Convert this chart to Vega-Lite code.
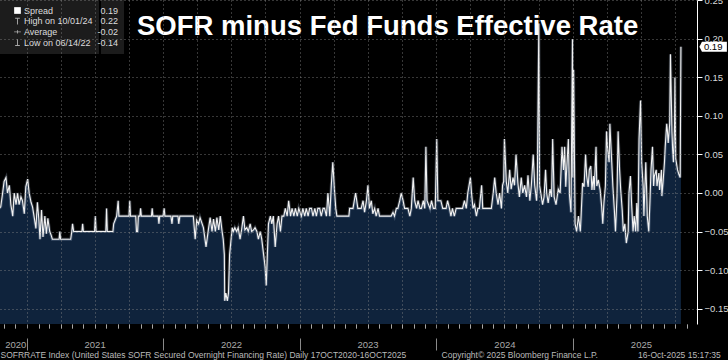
{
 "$schema": "https://vega.github.io/schema/vega-lite/v6.json",
 "width": 697, "height": 324,
 "autosize": {"type": "none"},
 "padding": {"left": 0, "top": 0, "right": 31, "bottom": 36},
 "background": "#000000",
 "title": {"text": "SOFR minus Fed Funds Effective Rate", "anchor": "start", "frame": "group", "orient": "top", "offset": -67, "dx": 137, "fontSize": 27.5, "fontWeight": "bold", "font": "Liberation Sans", "color": "#ffffff", "baseline": "alphabetic"},
 "datasets": {
  "spread": [
   {"d":"2020-10-19","v":-0.02},{"d":"2020-10-23","v":-0.018},{"d":"2020-10-28","v":0.0},{"d":"2020-11-01","v":0.015},{"d":"2020-11-06","v":0.02},{"d":"2020-11-10","v":0.0},{"d":"2020-11-15","v":0.01},{"d":"2020-11-19","v":-0.015},{"d":"2020-11-24","v":-0.03},{"d":"2020-11-28","v":0.0},{"d":"2020-12-03","v":-0.015},{"d":"2020-12-07","v":0.0},{"d":"2020-12-11","v":-0.015},{"d":"2020-12-16","v":-0.005},{"d":"2020-12-20","v":-0.01},{"d":"2020-12-25","v":-0.027},{"d":"2020-12-29","v":0.008},
   {"d":"2021-01-03","v":0.018},{"d":"2021-01-07","v":0.0},{"d":"2021-01-12","v":-0.012},{"d":"2021-01-16","v":-0.018},{"d":"2021-01-20","v":-0.03},{"d":"2021-01-25","v":-0.046},{"d":"2021-01-29","v":-0.012},{"d":"2021-02-02","v":-0.035},{"d":"2021-02-05","v":-0.06},{"d":"2021-02-09","v":-0.022},{"d":"2021-02-13","v":-0.057},{"d":"2021-02-18","v":-0.03},{"d":"2021-02-22","v":-0.053},{"d":"2021-02-26","v":-0.033},{"d":"2021-03-03","v":-0.05},{"d":"2021-03-07","v":-0.055},{"d":"2021-03-10","v":-0.06},{"d":"2021-03-28","v":-0.06},{"d":"2021-03-30","v":-0.05},{"d":"2021-04-01","v":-0.06},{"d":"2021-04-28","v":-0.06},{"d":"2021-05-01","v":-0.05},{"d":"2021-05-03","v":-0.04},{"d":"2021-05-06","v":-0.05},{"d":"2021-05-28","v":-0.05},{"d":"2021-05-30","v":-0.04},{"d":"2021-06-01","v":-0.05},{"d":"2021-07-01","v":-0.05},{"d":"2021-07-03","v":-0.03},{"d":"2021-07-05","v":-0.05},{"d":"2021-07-31","v":-0.05},{"d":"2021-08-02","v":-0.02},{"d":"2021-08-04","v":-0.05},{"d":"2021-08-19","v":-0.05},{"d":"2021-08-21","v":-0.04},{"d":"2021-08-25","v":-0.035},{"d":"2021-08-29","v":-0.03},{"d":"2021-09-02","v":-0.01},{"d":"2021-09-04","v":-0.03},{"d":"2021-10-01","v":-0.03},{"d":"2021-10-03","v":-0.01},{"d":"2021-10-05","v":-0.03},{"d":"2021-10-19","v":-0.03},{"d":"2021-10-21","v":-0.05},{"d":"2021-10-24","v":-0.05},{"d":"2021-10-26","v":-0.03},{"d":"2021-10-30","v":-0.03},{"d":"2021-11-01","v":-0.02},{"d":"2021-11-03","v":-0.03},{"d":"2021-11-30","v":-0.03},{"d":"2021-12-02","v":-0.02},{"d":"2021-12-04","v":-0.03},{"d":"2021-12-18","v":-0.03},{"d":"2021-12-20","v":-0.04},{"d":"2021-12-22","v":-0.03},{"d":"2021-12-31","v":-0.03},
   {"d":"2022-01-03","v":-0.02},{"d":"2022-01-05","v":-0.03},{"d":"2022-01-21","v":-0.03},{"d":"2022-01-24","v":-0.04},{"d":"2022-01-26","v":-0.03},{"d":"2022-02-09","v":-0.03},{"d":"2022-02-11","v":-0.04},{"d":"2022-02-14","v":-0.03},{"d":"2022-03-22","v":-0.03},{"d":"2022-03-27","v":-0.06},{"d":"2022-03-31","v":-0.035},{"d":"2022-04-05","v":-0.04},{"d":"2022-04-09","v":-0.032},{"d":"2022-04-18","v":-0.045},{"d":"2022-04-25","v":-0.07},{"d":"2022-05-02","v":-0.045},{"d":"2022-05-06","v":-0.032},{"d":"2022-05-11","v":-0.05},{"d":"2022-05-15","v":-0.034},{"d":"2022-05-20","v":-0.05},{"d":"2022-05-24","v":-0.032},{"d":"2022-05-29","v":-0.048},{"d":"2022-06-02","v":-0.03},{"d":"2022-06-07","v":-0.05},{"d":"2022-06-10","v":-0.06},{"d":"2022-06-13","v":-0.08},{"d":"2022-06-14","v":-0.14},{"d":"2022-06-17","v":-0.13},{"d":"2022-06-21","v":-0.14},{"d":"2022-06-24","v":-0.13},{"d":"2022-06-27","v":-0.08},{"d":"2022-07-01","v":-0.06},{"d":"2022-07-04","v":-0.045},{"d":"2022-07-07","v":-0.05},{"d":"2022-07-11","v":-0.045},{"d":"2022-07-16","v":-0.05},{"d":"2022-07-20","v":-0.045},{"d":"2022-07-25","v":-0.06},{"d":"2022-07-29","v":-0.048},{"d":"2022-08-03","v":-0.03},{"d":"2022-08-07","v":-0.048},{"d":"2022-08-12","v":-0.045},{"d":"2022-08-16","v":-0.05},{"d":"2022-08-21","v":-0.04},{"d":"2022-08-25","v":-0.05},{"d":"2022-08-30","v":-0.048},{"d":"2022-09-03","v":-0.045},{"d":"2022-09-08","v":-0.05},{"d":"2022-09-12","v":-0.06},{"d":"2022-09-17","v":-0.05},{"d":"2022-09-21","v":-0.06},{"d":"2022-09-26","v":-0.08},{"d":"2022-09-30","v":-0.096},{"d":"2022-10-03","v":-0.12},{"d":"2022-10-06","v":-0.08},{"d":"2022-10-09","v":-0.04},{"d":"2022-10-14","v":-0.03},{"d":"2022-10-18","v":-0.04},{"d":"2022-10-22","v":-0.03},{"d":"2022-10-27","v":-0.07},{"d":"2022-11-01","v":-0.04},{"d":"2022-11-05","v":-0.03},{"d":"2022-11-10","v":-0.05},{"d":"2022-11-14","v":-0.03},{"d":"2022-11-19","v":-0.03},{"d":"2022-11-23","v":-0.02},{"d":"2022-11-28","v":-0.03},{"d":"2022-12-02","v":-0.01},{"d":"2022-12-07","v":-0.03},{"d":"2022-12-11","v":-0.02},{"d":"2022-12-16","v":-0.03},{"d":"2022-12-20","v":-0.02},{"d":"2022-12-25","v":-0.03},{"d":"2022-12-29","v":-0.02},
   {"d":"2023-01-05","v":-0.03},{"d":"2023-01-09","v":-0.02},{"d":"2023-01-14","v":-0.03},{"d":"2023-01-18","v":-0.02},{"d":"2023-01-23","v":-0.03},{"d":"2023-01-27","v":-0.02},{"d":"2023-02-01","v":-0.02},{"d":"2023-02-05","v":-0.03},{"d":"2023-02-10","v":-0.02},{"d":"2023-02-14","v":-0.03},{"d":"2023-02-18","v":-0.02},{"d":"2023-02-23","v":-0.02},{"d":"2023-02-27","v":-0.03},{"d":"2023-03-04","v":-0.02},{"d":"2023-03-08","v":-0.02},{"d":"2023-03-13","v":-0.03},{"d":"2023-03-17","v":0.0},{"d":"2023-03-22","v":-0.03},{"d":"2023-03-26","v":0.01},{"d":"2023-03-30","v":0.04},{"d":"2023-04-04","v":0.0},{"d":"2023-04-07","v":-0.02},{"d":"2023-04-10","v":-0.03},{"d":"2023-05-12","v":-0.03},{"d":"2023-05-14","v":-0.02},{"d":"2023-05-23","v":-0.02},{"d":"2023-05-30","v":0.0},{"d":"2023-06-05","v":-0.02},{"d":"2023-06-14","v":-0.02},{"d":"2023-06-19","v":-0.01},{"d":"2023-06-23","v":-0.025},{"d":"2023-06-28","v":-0.01},{"d":"2023-07-02","v":0.01},{"d":"2023-07-06","v":-0.02},{"d":"2023-07-11","v":-0.01},{"d":"2023-07-15","v":-0.027},{"d":"2023-07-20","v":-0.02},{"d":"2023-07-24","v":-0.03},{"d":"2023-07-29","v":-0.02},{"d":"2023-08-02","v":-0.03},{"d":"2023-09-02","v":-0.03},{"d":"2023-09-07","v":-0.025},{"d":"2023-09-11","v":-0.03},{"d":"2023-09-16","v":-0.02},{"d":"2023-09-20","v":-0.02},{"d":"2023-09-25","v":-0.01},{"d":"2023-09-29","v":0.0},{"d":"2023-10-04","v":-0.01},{"d":"2023-10-08","v":-0.02},{"d":"2023-10-17","v":-0.02},{"d":"2023-10-22","v":-0.03},{"d":"2023-10-26","v":-0.02},{"d":"2023-10-31","v":0.02},{"d":"2023-11-04","v":-0.01},{"d":"2023-11-09","v":-0.02},{"d":"2023-11-13","v":-0.01},{"d":"2023-11-18","v":-0.02},{"d":"2023-11-22","v":-0.02},{"d":"2023-11-27","v":-0.01},{"d":"2023-12-01","v":-0.02},{"d":"2023-12-04","v":0.06},{"d":"2023-12-07","v":-0.01},{"d":"2023-12-15","v":-0.02},{"d":"2023-12-19","v":-0.01},{"d":"2023-12-24","v":-0.02},{"d":"2023-12-29","v":-0.02},
   {"d":"2024-01-02","v":0.07},{"d":"2024-01-05","v":-0.01},{"d":"2024-01-13","v":-0.01},{"d":"2024-01-18","v":-0.02},{"d":"2024-01-27","v":-0.02},{"d":"2024-01-31","v":-0.01},{"d":"2024-02-05","v":-0.02},{"d":"2024-02-09","v":-0.03},{"d":"2024-02-13","v":-0.02},{"d":"2024-02-18","v":-0.03},{"d":"2024-02-23","v":-0.02},{"d":"2024-03-03","v":-0.02},{"d":"2024-03-11","v":-0.02},{"d":"2024-03-16","v":-0.01},{"d":"2024-03-21","v":-0.02},{"d":"2024-03-25","v":0.0},{"d":"2024-04-01","v":0.02},{"d":"2024-04-04","v":0.0},{"d":"2024-04-08","v":-0.02},{"d":"2024-04-12","v":-0.015},{"d":"2024-04-17","v":-0.03},{"d":"2024-04-21","v":-0.02},{"d":"2024-04-25","v":-0.02},{"d":"2024-05-01","v":0.01},{"d":"2024-05-04","v":-0.02},{"d":"2024-05-27","v":-0.02},{"d":"2024-06-01","v":0.0},{"d":"2024-06-05","v":0.02},{"d":"2024-06-09","v":0.0},{"d":"2024-06-14","v":-0.015},{"d":"2024-06-18","v":0.0},{"d":"2024-06-23","v":-0.02},{"d":"2024-06-26","v":0.01},{"d":"2024-06-29","v":0.015},{"d":"2024-07-01","v":0.07},{"d":"2024-07-06","v":0.015},{"d":"2024-07-10","v":0.0},{"d":"2024-07-15","v":0.03},{"d":"2024-07-19","v":0.005},{"d":"2024-07-24","v":0.02},{"d":"2024-07-28","v":0.01},{"d":"2024-08-01","v":0.05},{"d":"2024-08-06","v":0.013},{"d":"2024-08-10","v":-0.005},{"d":"2024-08-15","v":0.02},{"d":"2024-08-19","v":0.0},{"d":"2024-08-24","v":0.01},{"d":"2024-08-29","v":-0.005},{"d":"2024-09-02","v":0.023},{"d":"2024-09-07","v":-0.01},{"d":"2024-09-11","v":0.01},{"d":"2024-09-16","v":0.05},{"d":"2024-09-20","v":0.01},{"d":"2024-09-25","v":-0.01},{"d":"2024-09-27","v":0.013},{"d":"2024-10-01","v":0.22},{"d":"2024-10-03","v":0.01},{"d":"2024-10-11","v":-0.015},{"d":"2024-10-15","v":-0.005},{"d":"2024-10-19","v":0.03},{"d":"2024-10-22","v":0.0},{"d":"2024-10-26","v":-0.013},{"d":"2024-10-31","v":0.005},{"d":"2024-11-04","v":-0.005},{"d":"2024-11-07","v":0.07},{"d":"2024-11-11","v":-0.005},{"d":"2024-11-16","v":-0.015},{"d":"2024-11-22","v":0.005},{"d":"2024-11-27","v":0.0},{"d":"2024-12-02","v":0.06},{"d":"2024-12-06","v":0.03},{"d":"2024-12-09","v":0.06},{"d":"2024-12-12","v":0.008},{"d":"2024-12-15","v":0.035},{"d":"2024-12-19","v":0.07},{"d":"2024-12-22","v":-0.003},{"d":"2024-12-26","v":-0.025},{"d":"2024-12-30","v":0.2},{"d":"2024-12-31","v":0.02},
   {"d":"2025-01-02","v":0.16},{"d":"2025-01-06","v":-0.04},{"d":"2025-01-10","v":-0.05},{"d":"2025-01-15","v":-0.03},{"d":"2025-01-20","v":-0.05},{"d":"2025-01-22","v":-0.03},{"d":"2025-01-26","v":0.013},{"d":"2025-01-30","v":0.008},{"d":"2025-02-03","v":0.05},{"d":"2025-02-06","v":0.022},{"d":"2025-02-10","v":0.008},{"d":"2025-02-13","v":0.03},{"d":"2025-02-17","v":0.035},{"d":"2025-02-20","v":0.004},{"d":"2025-02-24","v":0.022},{"d":"2025-02-26","v":0.004},{"d":"2025-03-03","v":0.06},{"d":"2025-03-05","v":0.009},{"d":"2025-03-09","v":0.017},{"d":"2025-03-14","v":0.004},{"d":"2025-03-18","v":-0.017},{"d":"2025-03-21","v":-0.04},{"d":"2025-03-24","v":-0.013},{"d":"2025-03-28","v":0.009},{"d":"2025-03-31","v":0.08},{"d":"2025-04-03","v":0.057},{"d":"2025-04-07","v":0.04},{"d":"2025-04-09","v":0.09},{"d":"2025-04-14","v":0.04},{"d":"2025-04-17","v":0.009},{"d":"2025-04-21","v":-0.022},{"d":"2025-04-24","v":-0.05},{"d":"2025-04-28","v":-0.005},{"d":"2025-05-01","v":0.08},{"d":"2025-05-05","v":0.03},{"d":"2025-05-08","v":0.004},{"d":"2025-05-12","v":-0.022},{"d":"2025-05-15","v":-0.05},{"d":"2025-05-19","v":-0.04},{"d":"2025-05-23","v":-0.065},{"d":"2025-05-28","v":-0.05},{"d":"2025-05-30","v":0.0},{"d":"2025-06-03","v":0.022},{"d":"2025-06-06","v":-0.013},{"d":"2025-06-10","v":-0.05},{"d":"2025-06-13","v":-0.03},{"d":"2025-06-17","v":-0.05},{"d":"2025-06-20","v":-0.013},{"d":"2025-06-23","v":-0.05},{"d":"2025-06-26","v":0.07},{"d":"2025-06-30","v":0.12},{"d":"2025-07-03","v":0.04},{"d":"2025-07-07","v":0.009},{"d":"2025-07-09","v":-0.03},{"d":"2025-07-14","v":0.04},{"d":"2025-07-16","v":0.009},{"d":"2025-07-18","v":-0.03},{"d":"2025-07-22","v":-0.05},{"d":"2025-07-25","v":-0.013},{"d":"2025-07-28","v":0.03},{"d":"2025-08-01","v":0.06},{"d":"2025-08-04","v":0.009},{"d":"2025-08-06","v":0.022},{"d":"2025-08-11","v":0.03},{"d":"2025-08-13","v":0.009},{"d":"2025-08-18","v":0.026},{"d":"2025-08-20","v":0.004},{"d":"2025-08-25","v":0.03},{"d":"2025-08-26","v":-0.004},{"d":"2025-08-29","v":0.013},{"d":"2025-09-02","v":0.04},{"d":"2025-09-04","v":0.06},{"d":"2025-09-08","v":0.09},{"d":"2025-09-10","v":0.08},{"d":"2025-09-12","v":0.065},{"d":"2025-09-16","v":0.09},{"d":"2025-09-18","v":0.18},{"d":"2025-09-22","v":0.08},{"d":"2025-09-24","v":0.055},{"d":"2025-09-26","v":0.04},{"d":"2025-09-29","v":0.09},{"d":"2025-09-30","v":0.15},{"d":"2025-10-02","v":0.045},{"d":"2025-10-07","v":0.03},{"d":"2025-10-10","v":0.025},{"d":"2025-10-14","v":0.02},{"d":"2025-10-16","v":0.19}
  ],
  "last": [{"d":"2025-10-16","v":0.19,"label":"0.19"}],
  "stats": [{"name":"Spread","val":"0.19"},{"name":"High on 10/01/24","val":"0.22"},{"name":"Average","val":"-0.02"},{"name":"Low on 06/14/22","val":"-0.14"}]
 },
 "layer": [
  {
   "data": {"name": "spread"},
   "mark": {"type": "area", "color": "#0f233c", "clip": true},
   "encoding": {
    "x": {"field": "d", "type": "temporal",
     "scale": {"domain": [{"year": 2020, "month": 10, "date": 21}, {"year": 2025, "month": 11, "date": 28}]},
     "axis": {
      "title": "SOFRRATE Index (United States SOFR Secured Overnight Financing Rate) Daily 17OCT2020-16OCT2025\u00a0\u00a0\u00a0\u00a0\u00a0\u00a0\u00a0\u00a0\u00a0\u00a0\u00a0\u00a0\u00a0\u00a0\u00a0Copyright\u00a9 2025 Bloomberg Finance L.P.\u00a0\u00a0\u00a0\u00a0\u00a0\u00a0\u00a0\u00a0\u00a0\u00a0\u00a0\u00a0\u00a0\u00a0\u00a0\u00a0\u00a016-Oct-2025 15:17:35",
      "titleColor": "#bbbbbb", "titleFontSize": 8.5, "titleFontWeight": "normal", "titleFont": "Liberation Sans",
      "titleAnchor": "start", "titleAlign": "left", "titleX": 0, "titleY": 33, "titleBaseline": "alphabetic",
      "tickCount": {"interval": "month", "step": 1},
      "labelExpr": "month(datum.value) == 6 ? timeFormat(datum.value, '%Y') : ((month(datum.value) == 11 && year(datum.value) == 2020) ? '2020' : '')",
      "labelOverlap": false, "labelFlush": false, "labelBound": false,
      "labelColor": "#aaaaaa", "labelFontSize": 9.5, "labelFont": "Liberation Sans", "labelPadding": 16, "labelBaseline": "middle", "labelAlign": "center",
      "domain": false,
      "grid": true, "gridColor": "#8a8a8a", "gridDash": [1, 3], "gridWidth": 1,
      "gridOpacity": {"condition": {"test": "month(datum.value) % 3 == 0", "value": 0.8}, "value": 0},
      "ticks": true,
      "tickColor": {"condition": {"test": "month(datum.value) == 0", "value": "#8a8a8a"}, "value": "#e0e0e0"},
      "tickSize": {"condition": {"test": "month(datum.value) == 0", "value": 26}, "value": 4},
      "tickDash": {"condition": {"test": "month(datum.value) == 0", "value": [4, 10, 12]}, "value": [1, 0]},
      "zindex": 1
     }
    },
    "y": {"field": "v", "type": "quantitative",
     "scale": {"domain": [-0.1701, 0.2506], "nice": false, "zero": false},
     "axis": {
      "orient": "right", "title": null,
      "values": [-0.15, -0.125, -0.1, -0.075, -0.05, -0.025, 0, 0.025, 0.05, 0.075, 0.1, 0.125, 0.15, 0.175, 0.2, 0.225, 0.25],
      "labelExpr": "abs(datum.value * 20 - round(datum.value * 20)) < 0.01 ? format(datum.value, '.2f') : ''",
      "labelOverlap": false, "labelColor": "#d8d8d8", "labelFontSize": 9.5, "labelFont": "Liberation Sans", "labelPadding": 2, "labelBaseline": "middle",
      "domain": true, "domainColor": "#ffffff", "domainWidth": 1,
      "tickColor": "#ffffff",
      "tickSize": {"condition": {"test": "abs(datum.value * 20 - round(datum.value * 20)) < 0.01", "value": 5}, "value": 3},
      "grid": true, "gridColor": "#8a8a8a", "gridDash": [1, 3], "gridWidth": 1,
      "gridOpacity": {"condition": {"test": "abs(datum.value * 20 - round(datum.value * 20)) < 0.01", "value": 0.8}, "value": 0},
      "zindex": 1
     }
    },
    "y2": {"datum": -0.2}
   }
  },
  {
   "data": {"name": "spread"},
   "mark": {"type": "line", "color": "#9fb0c8", "strokeWidth": 3, "opacity": 0.3, "clip": true},
   "encoding": {"x": {"field": "d", "type": "temporal"}, "y": {"field": "v", "type": "quantitative"}}
  },
  {
   "data": {"name": "spread"},
   "mark": {"type": "line", "color": "#f2f2f2", "strokeWidth": 1.1, "clip": true},
   "encoding": {"x": {"field": "d", "type": "temporal"}, "y": {"field": "v", "type": "quantitative"}}
  },
  {
   "data": {"name": "last"},
   "mark": {"type": "point", "shape": "M0.84,0L0.955,-0.227H2.09V0.227H0.955Z", "filled": true, "fill": "#ffffff", "opacity": 1, "size": 1936, "strokeWidth": 0},
   "encoding": {"x": {"field": "d", "type": "temporal"}, "y": {"field": "v", "type": "quantitative"}}
  },
  {
   "data": {"name": "last"},
   "mark": {"type": "text", "dx": 23, "align": "left", "baseline": "middle", "color": "#000000", "fontSize": 9.5, "font": "Liberation Sans"},
   "encoding": {"x": {"field": "d", "type": "temporal"}, "y": {"field": "v", "type": "quantitative"}, "text": {"field": "label"}}
  },
  {
   "data": {"name": "stats"},
   "transform": [{"filter": "false"}],
   "mark": {"type": "point", "filled": true, "opacity": 1},
   "encoding": {
    "color": {"field": "name", "type": "nominal",
     "scale": {"domain": ["Spread", "High on 10/01/24", "Average", "Low on 06/14/22"], "range": ["#ffffff", "#a8a8a8", "#a8a8a8", "#a8a8a8"]},
     "legend": {"orient": "none", "legendX": -3, "legendY": 0, "title": null, "fillColor": "#1c1c1c", "padding": 6, "symbolOffset": 10, "labelOffset": 2, "labelColor": "#dcdcdc", "labelFontSize": 9, "labelFont": "Liberation Sans", "rowPadding": 0.7, "symbolSize": 45, "symbolOpacity": 1, "symbolStrokeWidth": 0}
    },
    "shape": {"field": "name", "type": "nominal",
     "scale": {"domain": ["Spread", "High on 10/01/24", "Average", "Low on 06/14/22"],
      "range": ["square", "M-0.7,-1H0.7V-0.72H0.14V1H-0.14V-0.72H-0.7Z", "M-1,-0.14H1V0.14H-1ZM-0.14,-0.5H0.14V0.5H-0.14Z", "M-0.14,-1H0.14V0.72H0.7V1H-0.7V0.72H-0.14Z"]}
    },
    "size": {"field": "val", "type": "ordinal",
     "scale": {"domain": ["0.19", "0.22", "-0.02", "-0.14"], "range": [4, 4, 4, 4]},
     "legend": {"orient": "none", "legendX": 101, "legendY": 0, "title": null, "fillColor": "#1c1c1c", "padding": 6, "symbolOffset": 0, "labelOffset": 2, "labelColor": "#dcdcdc", "labelFontSize": 9, "labelFont": "Liberation Sans", "rowPadding": 0.7, "symbolOpacity": 0, "labelAlign": "right"}
    }
   }
  }
 ],
 "config": {"view": {"stroke": null}, "font": "Liberation Sans"}
}
